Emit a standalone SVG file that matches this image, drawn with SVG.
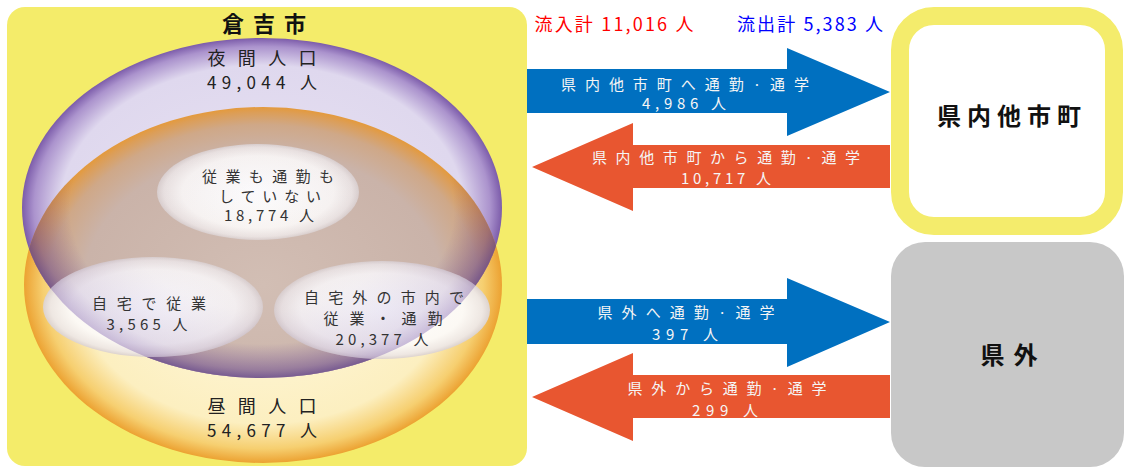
<svg xmlns="http://www.w3.org/2000/svg" width="1124" height="468" viewBox="0 0 1124 468">
<style>
text{font-family:"Noto Sans CJK JP","Noto Sans",sans-serif;text-anchor:middle}
.title{font-size:22px;font-weight:700;fill:#111}
.pop{font-size:18px;fill:#222}
.popn{font-size:17px;fill:#222}
.inner{font-size:15px;fill:#333}
.arr{font-size:15px;fill:#f5f5f5}
.head{font-size:18px}
.box{font-size:24px;font-weight:700;fill:#111}
</style>
<defs>
<radialGradient id="gO"><stop offset="0" stop-color="#fff9e0"/><stop offset="0.78" stop-color="#fcefc0"/><stop offset="0.92" stop-color="#f6cf70"/><stop offset="1" stop-color="#eca232"/></radialGradient>
<radialGradient id="gP"><stop offset="0" stop-color="#e8e2f2"/><stop offset="0.84" stop-color="#dfd8ee"/><stop offset="0.95" stop-color="#ab93cd"/><stop offset="1" stop-color="#7c5caa"/></radialGradient>
<radialGradient id="gOv"><stop offset="0" stop-color="#d2beb4"/><stop offset="0.75" stop-color="#cab3a9"/><stop offset="0.9" stop-color="#cfa888"/><stop offset="0.97" stop-color="#dc9e58"/><stop offset="1" stop-color="#e49a3c"/></radialGradient>
<radialGradient id="gPrim"><stop offset="0" stop-color="#7a5a96" stop-opacity="0"/><stop offset="0.8" stop-color="#7a5a96" stop-opacity="0"/><stop offset="0.95" stop-color="#6e4e90" stop-opacity="0.55"/><stop offset="1" stop-color="#62448a" stop-opacity="0.8"/></radialGradient>
<radialGradient id="gIn"><stop offset="0" stop-color="#ffffff"/><stop offset="0.75" stop-color="#fcf9f4"/><stop offset="0.93" stop-color="#eee7e2"/><stop offset="1" stop-color="#ddd3ce"/></radialGradient>
<radialGradient id="gTint"><stop offset="0" stop-color="#9a86c4" stop-opacity="0.03"/><stop offset="0.6" stop-color="#9a86c4" stop-opacity="0.1"/><stop offset="0.9" stop-color="#8c74bc" stop-opacity="0.22"/><stop offset="1" stop-color="#7a5cae" stop-opacity="0.4"/></radialGradient>
<clipPath id="clipP"><ellipse cx="262" cy="208" rx="240" ry="170"/></clipPath>
<clipPath id="clipO"><ellipse cx="263" cy="285" rx="239" ry="178"/></clipPath>
<clipPath id="clipIn"><ellipse cx="258" cy="192" rx="101" ry="48"/><ellipse cx="153" cy="307" rx="110" ry="50"/><ellipse cx="382" cy="310" rx="108" ry="49"/></clipPath>
</defs>
<rect width="1124" height="468" fill="#ffffff"/>

<g id="kurayoshi">
<rect x="7" y="7" width="520" height="459" rx="18" fill="#f4ec6a"/>
<ellipse cx="263" cy="285" rx="239" ry="178" fill="url(#gO)"/>
<ellipse cx="262" cy="208" rx="240" ry="170" fill="url(#gP)"/>
<g clip-path="url(#clipP)"><ellipse cx="263" cy="285" rx="239" ry="178" fill="url(#gOv)"/></g>
<g clip-path="url(#clipO)"><ellipse cx="262" cy="208" rx="240" ry="170" fill="url(#gPrim)"/></g>
<text class="title" x="264" y="32" textLength="84">倉吉市</text>
</g>

<g id="night">
<text class="pop" x="262" y="65" textLength="109">夜間人口</text>
<text class="popn" x="262" y="89" textLength="110">49,044 人</text>
</g>

<g id="day">
<text class="pop" x="262" y="413" textLength="109">昼間人口</text>
<text class="popn" x="262" y="437" textLength="110">54,677 人</text>
</g>

<g id="inner-ellipses">
<ellipse cx="258" cy="192" rx="101" ry="48" fill="url(#gIn)"/>
<ellipse cx="153" cy="307" rx="110" ry="50" fill="url(#gIn)"/>
<ellipse cx="382" cy="310" rx="108" ry="49" fill="url(#gIn)"/>
<g clip-path="url(#clipIn)"><ellipse cx="262" cy="208" rx="240" ry="170" fill="url(#gTint)"/></g>
</g>

<g id="no-work">
<text class="inner" x="268" y="182" textLength="132">従業も通勤も</text>
<text class="inner" x="270" y="202" textLength="102">していない</text>
<text class="inner" x="269" y="221" textLength="90">18,774 人</text>
</g>

<g id="work-home">
<text class="inner" x="149" y="309" textLength="114">自宅で従業</text>
<text class="inner" x="147" y="330" textLength="81">3,565 人</text>
</g>

<g id="work-city">
<text class="inner" x="384" y="303" textLength="160">自宅外の市内で</text>
<text class="inner" x="383" y="324" textLength="119">従業・通勤</text>
<text class="inner" x="382" y="345" textLength="93">20,377 人</text>
</g>

<g id="totals">
<text class="head" x="614" y="31" textLength="159" fill="#ff0000">流入計 11,016 人</text>
<text class="head" x="810" y="31" textLength="146" fill="#0000ff">流出計 5,383 人</text>
</g>

<g id="pref-other">
<rect x="900" y="16" width="214" height="210" rx="34" fill="#ffffff" stroke="#f4ec6c" stroke-width="18"/>
<text class="box" x="1009" y="125" textLength="144">県内他市町</text>
</g>

<g id="outside">
<rect x="891" y="242" width="233" height="225" rx="34" fill="#c8c8c8"/>
<text class="box" x="1009" y="364" textLength="57">県外</text>
</g>

<g id="connectors">
<polygon points="527,69 787,69 787,48 890,92 787,136 787,113 527,113" fill="#0070c0"/>
<polygon points="890,145 633,145 633,123 532,167 633,211 633,188 890,188" fill="#e85630"/>
<polygon points="527,299 787,299 787,278 890,322 787,367 787,344 527,344" fill="#0070c0"/>
<polygon points="890,375 633,375 633,353 532,397 633,441 633,418 890,418" fill="#e85630"/>
<text class="arr" x="685" y="90" textLength="248">県内他市町へ通勤·通学</text>
<text class="arr" x="684" y="109" textLength="84">4,986 人</text>
<text class="arr" x="726" y="163" textLength="268">県内他市町から通勤·通学</text>
<text class="arr" x="726" y="184" textLength="90">10,717 人</text>
<text class="arr" x="686" y="318" textLength="177">県外へ通勤·通学</text>
<text class="arr" x="685" y="340" textLength="66">397 人</text>
<text class="arr" x="727" y="394" textLength="199">県外から通勤·通学</text>
<text class="arr" x="725" y="416" textLength="66">299 人</text>
</g>
</svg>
